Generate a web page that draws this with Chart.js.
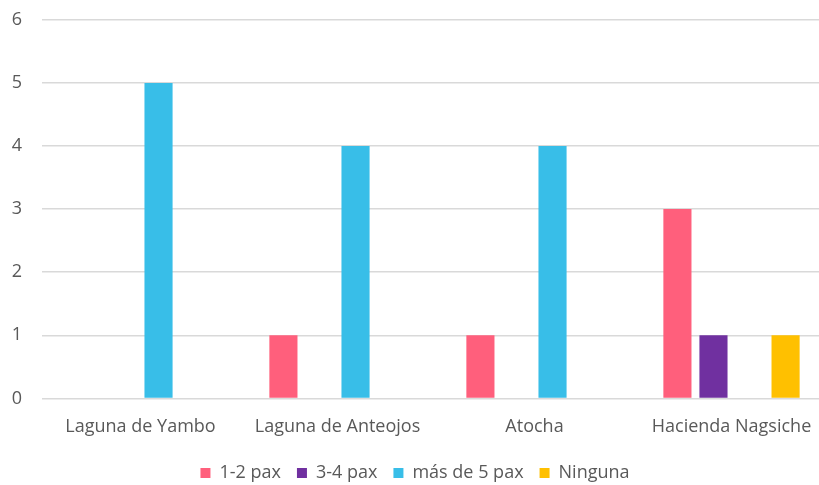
<!DOCTYPE html>
<html>
<head>
<meta charset="utf-8">
<script src="https://cdn.jsdelivr.net/npm/chart.js@4"></script>
<style>
  html, body { margin: 0; padding: 0; background: #fff; overflow: hidden; }
  #wrap { position: relative; width: 819px; height: 485px; overflow: hidden; }
  #c { position: absolute; left: 0; top: -11px; }
</style>
</head>
<body>
<div id="wrap"><canvas id="c" width="830" height="498"></canvas></div>
<script>
const categories = ['Laguna de Yambo', 'Laguna de Anteojos', 'Atocha', 'Hacienda Nagsiche'];
const seriesNames = ['1-2 pax', '3-4 pax', 'más de 5 pax', 'Ninguna'];
const pax12 = [0, 1, 1, 3];
const pax34 = [0, 0, 0, 1];
const pax5plus = [5, 4, 4, 0];
const ninguna = [0, 0, 0, 1];
const colors = ['#FF5F7C', '#7030A0', '#38BEE8', '#FFC000'];

const values = [pax12, pax34, pax5plus, ninguna];
const font = { family: 'Open Sans', size: 18 };
const ctx = document.getElementById('c').getContext('2d');
new Chart(ctx, {
    type: 'bar',
    data: {
        labels: categories,
        datasets: values.map((v, i) => ({
            label: seriesNames[i],
            data: v,
            backgroundColor: colors[i],
            categoryPercentage: 0.732,
            barPercentage: 0.78
        }))
    },
    options: {
        responsive: false,
        animation: false,
        layout: { padding: { top: -2, left: 0, right: 0, bottom: -5 } },
        plugins: {
            legend: {
                position: 'bottom',
                labels: {
                    boxWidth: 10, boxHeight: 10, padding: 16,
                    color: '#595959',
                    font: font
                }
            },
            tooltip: { enabled: false }
        },
        scales: {
            x: {
                grid: { display: false },
                border: { display: false },
                ticks: { color: '#595959', font: font, padding: 10 }
            },
            y: {
                min: 0, max: 6,
                afterFit: (scale) => { scale.width = 42; },
                ticks: { stepSize: 1, color: '#595959', font: font, padding: 20 },
                grid: { color: '#D9D9D9', lineWidth: 1.5, drawTicks: false },
                border: { display: false }
            }
        }
    }
});
</script>
</body>
</html>
